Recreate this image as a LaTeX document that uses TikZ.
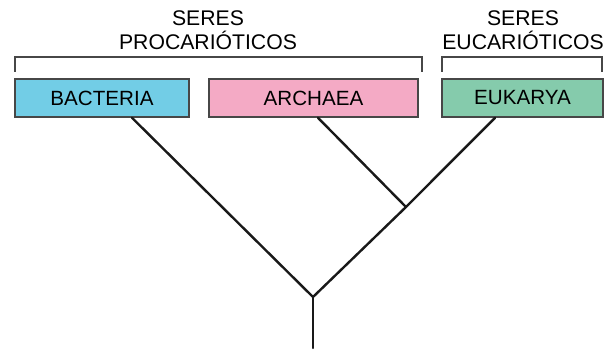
\documentclass[tikz,border=0pt]{standalone}
\usepackage{fontspec}
\setmainfont{Liberation Sans}
\usetikzlibrary{positioning}
\usepackage{xcolor}

\definecolor{bactcol}{HTML}{72CDE6}
\definecolor{archcol}{HTML}{F4AAC5}
\definecolor{eukcol}{HTML}{85CBAC}
\definecolor{edgecol}{HTML}{474747}

\tikzset{
  domainbox/.style={draw=edgecol, line width=1.6pt, minimum height=38pt,
    inner sep=0pt, font=\fontsize{20.6}{24}\selectfont},
  treeline/.style={line width=2.4pt, black!90, line cap=round},
  bracketline/.style={line width=1.6pt, edgecol},
  grouplabel/.style={align=center, font=\fontsize{21.2}{23.5}\selectfont, inner sep=0pt}
}

\begin{document}
\begin{tikzpicture}[x=1pt,y=1pt]
%% \draw[help lines,step=50] (0,0) grid (614,349);
\useasboundingbox (0,0) rectangle (614,349);

\node[domainbox, fill=bactcol, minimum width=174pt] (bact) at (102,251) {BACTERIA};
\node[domainbox, fill=archcol, minimum width=209pt] (arch) at (313.5,251) {ARCHAEA};
\node[domainbox, fill=eukcol, minimum width=161pt] (euk) at (522.5,251) {EUKARYA};

%% brackets over the boxes
\draw[bracketline] (15,277) -- (15,292) -- (422,292) -- (422,277);
\draw[bracketline] (442,277) -- (442,292) -- (602,292) -- (602,277);
\node[grouplabel] (proc) at (208,319) {SERES\\PROCARIÓTICOS};
\node[grouplabel] (euca) at (523,319) {SERES\\EUCARIÓTICOS};

%% the tree
\coordinate (root) at (313,52);
\coordinate (base) at (313,1);
\coordinate (fork) at (406,142);
\draw[treeline] (base) -- (root);
\draw[treeline] (root) -- ([xshift=30pt]bact.south);
\draw[treeline] (root) -- (fork);
\draw[treeline] (fork) -- ([xshift=-27.5pt]euk.south);
\draw[treeline] (fork) -- ([xshift=4.5pt]arch.south);
\end{tikzpicture}
\end{document}
